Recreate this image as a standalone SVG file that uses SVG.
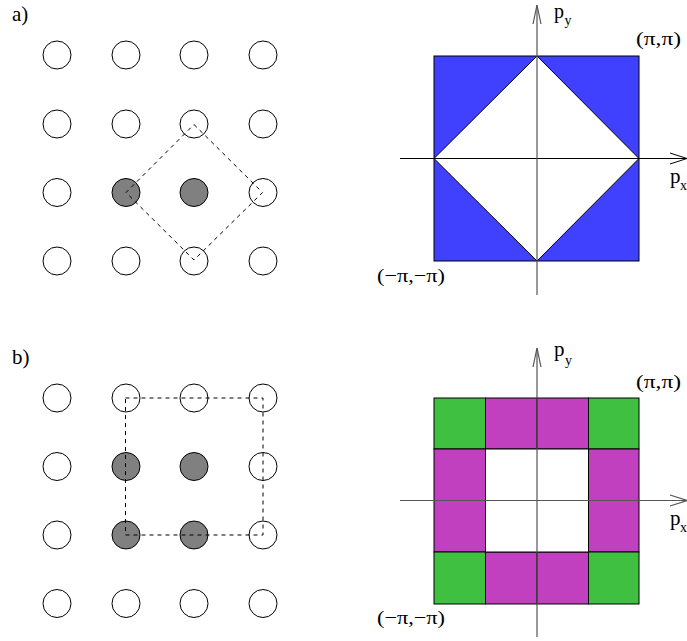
<svg xmlns="http://www.w3.org/2000/svg" width="687" height="641" viewBox="0 0 687 641">
<style>
.c{fill:#fff;stroke:#000;stroke-width:1}
.g{fill:#808080;stroke:#000;stroke-width:1}
.d{fill:none;stroke:#000;stroke-width:1;stroke-dasharray:4,4}
.t{font-family:"Liberation Serif","DejaVu Serif",serif;font-size:21px;fill:#000}
.p{font-family:"Liberation Serif","DejaVu Serif",serif;font-size:20px;fill:#000}
.l{font-family:"Liberation Serif","DejaVu Serif",serif;font-size:19px;fill:#000}
.s{font-family:"Liberation Serif","DejaVu Serif",serif;font-size:14px;fill:#000}
.ax{stroke:#000;stroke-width:1;fill:none}
.ay{stroke:#555;stroke-width:1.2;fill:none}
.cell{stroke:#000;stroke-width:1}
</style>
<rect width="687" height="641" fill="#fff"/>
<text class="t" x="12" y="21">a)</text>
<text class="t" x="12" y="364">b)</text>
<g id="latticeA">
<circle class="c" cx="57" cy="55" r="14"/><circle class="c" cx="126" cy="55" r="14"/><circle class="c" cx="194" cy="55" r="14"/><circle class="c" cx="263" cy="55" r="14"/>
<circle class="c" cx="57" cy="124" r="14"/><circle class="c" cx="126" cy="124" r="14"/><circle class="c" cx="194" cy="124" r="14"/><circle class="c" cx="263" cy="124" r="14"/>
<circle class="c" cx="57" cy="192.5" r="14"/><circle class="g" cx="126" cy="192.5" r="14"/><circle class="g" cx="194" cy="192.5" r="14"/><circle class="c" cx="263" cy="192.5" r="14"/>
<circle class="c" cx="57" cy="261" r="14"/><circle class="c" cx="126" cy="261" r="14"/><circle class="c" cx="194" cy="261" r="14"/><circle class="c" cx="263" cy="261" r="14"/>
<polygon class="d" points="194,124.5 262.5,192.5 194,260 126,192.5"/>
</g>
<g id="latticeB">
<circle class="c" cx="57" cy="398" r="14"/><circle class="c" cx="126" cy="398" r="14"/><circle class="c" cx="194" cy="398" r="14"/><circle class="c" cx="263" cy="398" r="14"/>
<circle class="c" cx="57" cy="466.5" r="14"/><circle class="g" cx="126" cy="466.5" r="14"/><circle class="g" cx="194" cy="466.5" r="14"/><circle class="c" cx="263" cy="466.5" r="14"/>
<circle class="c" cx="57" cy="535" r="14"/><circle class="g" cx="126" cy="535" r="14"/><circle class="g" cx="194" cy="535" r="14"/><circle class="c" cx="263" cy="535" r="14"/>
<circle class="c" cx="57" cy="603.5" r="14"/><circle class="c" cx="126" cy="603.5" r="14"/><circle class="c" cx="194" cy="603.5" r="14"/><circle class="c" cx="263" cy="603.5" r="14"/>
<polygon class="d" points="125.5,398 263,398 263,535 125.5,535"/>
</g>
<g id="zoneA">
<rect x="434" y="56" width="205" height="205" fill="#4040ff" stroke="#000" stroke-width="1"/>
<polygon points="537,56 639,158.5 537,261 434,158.5" fill="#fff" stroke="#000" stroke-width="1"/>
<line class="ax" x1="400" y1="158.5" x2="687" y2="158.5"/>
<polyline class="ax" points="670,153 687,158.5 670,164"/>
<line class="ay" x1="537" y1="5" x2="537" y2="295"/>
<polyline class="ay" points="533,24 537,5 541,24"/>
<text class="p" x="554" y="18">p</text><text class="s" x="564.5" y="25">y</text>
<text class="t" x="670" y="183">p</text><text class="s" x="680" y="190">x</text>
<text class="l" x="636" y="45" textLength="45" lengthAdjust="spacingAndGlyphs">(π,π)</text>
<text class="l" x="377" y="282" textLength="68" lengthAdjust="spacingAndGlyphs">(−π,−π)</text>
</g>
<g id="zoneB">
<rect class="cell" x="434" y="398" width="51.5" height="51" fill="#40c040"/>
<rect class="cell" x="485.5" y="398" width="51.5" height="51" fill="#c040c0"/>
<rect class="cell" x="537" y="398" width="51.5" height="51" fill="#c040c0"/>
<rect class="cell" x="588.5" y="398" width="50.5" height="51" fill="#40c040"/>
<rect class="cell" x="434" y="449" width="51.5" height="51.5" fill="#c040c0"/>
<rect class="cell" x="588.5" y="449" width="50.5" height="51.5" fill="#c040c0"/>
<rect class="cell" x="434" y="500.5" width="51.5" height="51.5" fill="#c040c0"/>
<rect class="cell" x="588.5" y="500.5" width="50.5" height="51.5" fill="#c040c0"/>
<rect class="cell" x="434" y="552" width="51.5" height="52" fill="#40c040"/>
<rect class="cell" x="485.5" y="552" width="51.5" height="52" fill="#c040c0"/>
<rect class="cell" x="537" y="552" width="51.5" height="52" fill="#c040c0"/>
<rect class="cell" x="588.5" y="552" width="50.5" height="52" fill="#40c040"/>
<rect x="485.5" y="449" width="103" height="103" fill="#fff" stroke="#000" stroke-width="1"/>
<line class="ay" x1="400" y1="500.5" x2="687" y2="500.5"/>
<polyline class="ay" points="670,495 687,500.5 670,506"/>
<line class="ay" x1="537" y1="348" x2="537" y2="637"/>
<polyline class="ay" points="533,367 537,348 541,367"/>
<text class="t" x="554" y="356">p</text><text class="s" x="565" y="365">y</text>
<text class="t" x="670" y="525">p</text><text class="s" x="680" y="532">x</text>
<text class="l" x="636" y="388" textLength="45" lengthAdjust="spacingAndGlyphs">(π,π)</text>
<text class="l" x="377" y="624" textLength="68" lengthAdjust="spacingAndGlyphs">(−π,−π)</text>
</g>
</svg>
